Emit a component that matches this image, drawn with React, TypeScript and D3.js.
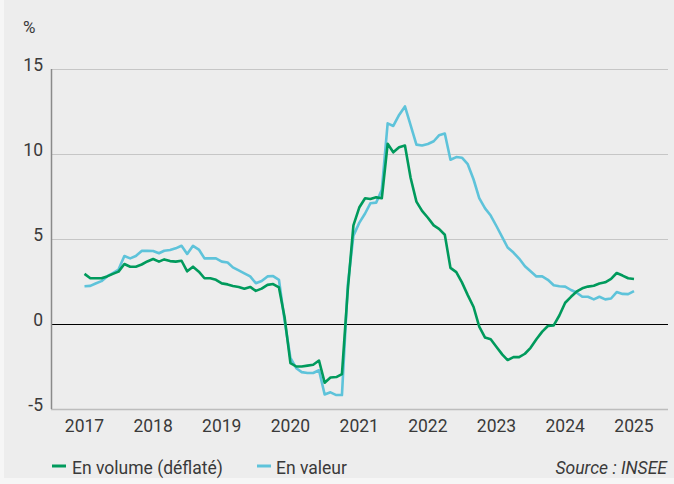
import React from "react";
import * as d3 from "d3";

// monthly year-on-year change, Jan 2017 -> Jan 2025
const volume = [
  2.95, 2.69, 2.69, 2.69, 2.8, 2.95, 3.08, 3.53, 3.37, 3.37,
  3.5, 3.68, 3.82, 3.67, 3.8, 3.7, 3.67, 3.72, 3.1, 3.37,
  3.08, 2.69, 2.69, 2.6, 2.39, 2.33, 2.24, 2.18, 2.08, 2.18,
  1.95, 2.08, 2.3, 2.35, 2.15, 0.4, -2.3, -2.5, -2.5, -2.45,
  -2.4, -2.15, -3.45, -3.15, -3.12, -2.95, 2.0, 5.8, 6.85, 7.4,
  7.35, 7.45, 7.4, 10.6, 10.1, 10.4, 10.5, 8.6, 7.2, 6.65,
  6.25, 5.8, 5.6, 5.25, 3.3, 3.05, 2.45, 1.7, 1.0, -0.15,
  -0.8, -0.9, -1.35, -1.8, -2.12, -1.95, -1.95, -1.75, -1.4, -0.9,
  -0.45, -0.12, -0.08, 0.5, 1.25, 1.6, 1.9, 2.1, 2.2, 2.25,
  2.38, 2.45, 2.65, 3.0, 2.85, 2.69, 2.65,
];

const valeur = [
  2.22, 2.24, 2.38, 2.52, 2.8, 3.0, 3.2, 4.0, 3.86, 4.0,
  4.3, 4.3, 4.29, 4.16, 4.31, 4.35, 4.45, 4.6, 4.12, 4.6,
  4.38, 3.86, 3.86, 3.86, 3.67, 3.62, 3.33, 3.15, 2.98, 2.8,
  2.4, 2.53, 2.8, 2.82, 2.6, 0.2, -2.0, -2.6, -2.83, -2.88,
  -2.88, -2.72, -4.15, -4.02, -4.18, -4.18, 2.3, 5.2, 5.95, 6.5,
  7.1, 7.14, 7.9, 11.8, 11.65, 12.3, 12.8, 11.7, 10.55, 10.5,
  10.59, 10.75, 11.1, 11.2, 9.66, 9.82, 9.78, 9.4, 8.5, 7.4,
  6.8, 6.38, 5.75, 5.1, 4.5, 4.2, 3.85, 3.4, 3.1, 2.8,
  2.8, 2.6, 2.28, 2.22, 2.2, 2.0, 1.85, 1.6, 1.6, 1.45,
  1.6, 1.45, 1.5, 1.88, 1.77, 1.76, 1.93,
];

const years = [2017, 2018, 2019, 2020, 2021, 2022, 2023, 2024, 2025];
const yTicks = [-5, 0, 5, 10, 15];

const months = volume.map((_, i) => new Date(2017, i, 1));

const font = "Roboto, 'Noto Sans', sans-serif";
const textColor = "#3a3a3a";

const App = () => {
  const W = 674;
  const H = 484;
  const left = 51;
  const right = 668;

  const x = d3.scaleTime()
    .domain([new Date(2017, 0, 1), new Date(2025, 0, 1)])
    .range([84.5, 634]);

  const y = d3.scaleLinear()
    .domain([-5, 15])
    .range([409, 69]);

  const line = d3.line<number>()
    .x((_, i) => x(months[i]))
    .y(d => y(d));

  // half-pixel offset keeps 1px rules sharp
  const crisp = (v: number) => Math.round(v) + 0.5;

  return (
    <svg width={W} height={H} style={{ position: "absolute", left: 0, top: 0 }}
      fontFamily={font}>
      <rect x={0} y={0} width={W} height={H} fill="#f6f6f6" />
      <rect x={4} y={0} width={W - 4} height={478} fill="#ededed" />

      {/* unit */}
      <text x={23} y={33} fontSize={17} fill={textColor}>%</text>

      {/* gridlines + y labels */}
      {yTicks.map(t => (
        <g key={t}>
          {t > -5 && (
            <line x1={left} x2={right} y1={crisp(y(t))} y2={crisp(y(t))}
              stroke={t === 0 ? "#000" : "#c6c6c6"} strokeWidth={1} />
          )}
          <text x={43} y={y(t) + 2} textAnchor="end" fontSize={17.5} fill={textColor}>
            {t}
          </text>
        </g>
      ))}

      {/* axes */}
      <line x1={left} x2={right} y1={crisp(y(-5))} y2={crisp(y(-5))} stroke="#bdbdbd" strokeWidth={1.5} />
      <line x1={crisp(left)} x2={crisp(left)} y1={y(15)} y2={y(-5)} stroke="#8a8a8a" strokeWidth={1.5} />

      {years.map(yr => (
        <text key={yr} x={x(new Date(yr, 0, 1))} y={431.5} textAnchor="middle"
          fontSize={17.5} fill={textColor}>
          {yr}
        </text>
      ))}

      {/* series */}
      <path d={line(valeur) ?? ""} fill="none" stroke="#5ec3da" strokeWidth={2.6}
        strokeLinejoin="round" />
      <path d={line(volume) ?? ""} fill="none" stroke="#009a5c" strokeWidth={2.6}
        strokeLinejoin="round" />

      {/* legend */}
      <line x1={52} x2={66} y1={466} y2={466} stroke="#009a5c" strokeWidth={3} />
      <text x={72} y={474} fontSize={17.5} fill={textColor}>En volume (déflaté)</text>
      <line x1={257} x2={271} y1={466} y2={466} stroke="#5ec3da" strokeWidth={3} />
      <text x={276} y={474} fontSize={17.5} fill={textColor}>En valeur</text>
      <text x={667} y={474} textAnchor="end" fontSize={17.5} fontStyle="italic" fill={textColor}>
        Source : INSEE
      </text>
    </svg>
  );
};

export default App;
